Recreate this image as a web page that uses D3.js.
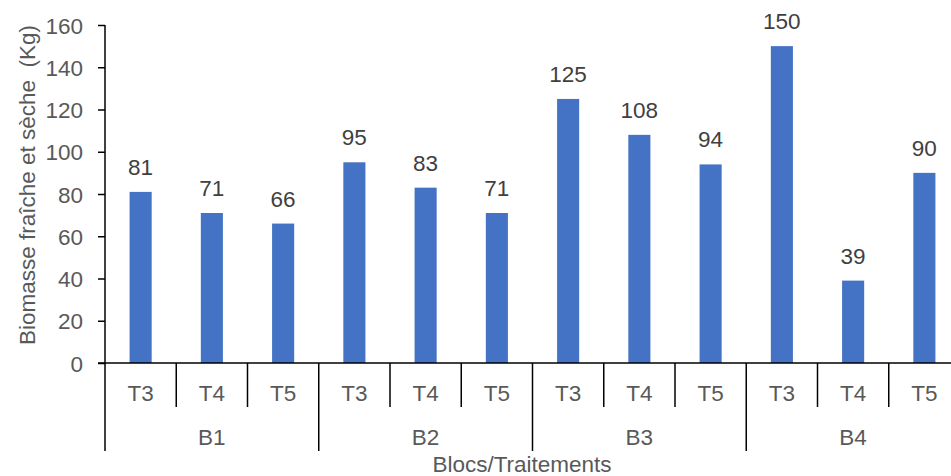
<!DOCTYPE html>
<html>
<head>
<meta charset="utf-8">
<script src="https://cdn.jsdelivr.net/npm/d3@7"></script>
<style>
  html, body { margin: 0; padding: 0; background: #fff; }
  svg { display: block; font-family: "Liberation Sans Narrow", "Arial Narrow", "Liberation Sans", Arial, sans-serif; }
  text { white-space: pre; }
</style>
</head>
<body>
<svg id="chart" width="951" height="476"></svg>
<script>
// Biomass per block and treatment
const blocks = ["B1", "B2", "B3", "B4"];
const treatments = ["T3", "T4", "T5"];
const values = [81, 71, 66, 95, 83, 71, 125, 108, 94, 150, 39, 90];
const yTicks = [0, 20, 40, 60, 80, 100, 120, 140, 160];

const yTitle = "Biomasse fraîche et sèche  (Kg)";
const xTitle = "Blocs/Traitements";

const rows = [];
blocks.forEach((b, bi) => treatments.forEach((t, ti) => {
  rows.push({ key: b + "-" + t, block: b, treat: t, value: values[bi * treatments.length + ti] });
}));

const svg = d3.select("#chart");
const plotL = 105, plotR = 960, plotT = 25, plotB = 363;
const textColor = "#595959";
const fontSize = 22.5;

const x = d3.scaleBand().domain(rows.map(d => d.key)).range([plotL, plotR]).paddingInner(0).paddingOuter(0);
const y = d3.scaleLinear().domain([0, 160]).range([plotB, plotT]);
const barW = x.bandwidth() * 0.31;

// Bars
svg.append("g").selectAll("rect").data(rows).join("rect")
  .attr("x", d => x(d.key) + (x.bandwidth() - barW) / 2)
  .attr("y", d => y(d.value))
  .attr("width", barW)
  .attr("height", d => y(0) - y(d.value))
  .attr("fill", "#4472C4");

// Value labels
svg.append("g").selectAll("text").data(rows).join("text")
  .attr("x", d => x(d.key) + x.bandwidth() / 2)
  .attr("y", d => y(d.value) - 17)
  .attr("text-anchor", "middle")
  .attr("font-size", fontSize)
  .attr("fill", "#404040")
  .text(d => d.value);

// Y axis
const yAxis = svg.append("g").attr("transform", `translate(${plotL},0)`)
  .call(d3.axisLeft(y).tickValues(yTicks).tickSize(7).tickPadding(15).tickSizeOuter(0));
yAxis.select(".domain").remove();
yAxis.selectAll(".tick line").attr("stroke", "#000").attr("stroke-width", 1.5);
yAxis.selectAll(".tick text").attr("font-size", fontSize).attr("fill", textColor)
  .attr("font-family", null).attr("dy", "0.36em");

// Vertical axis line, running down through the category rows
svg.append("line").attr("x1", plotL).attr("x2", plotL).attr("y1", plotT).attr("y2", 451)
  .attr("stroke", "#000").attr("stroke-width", 1.5);

// Baseline
svg.append("line").attr("x1", plotL - 7).attr("x2", plotR).attr("y1", y(0)).attr("y2", y(0))
  .attr("stroke", "#000").attr("stroke-width", 1.5);

// Category separators: short between treatments, long between blocks
const sep = svg.append("g");
rows.forEach((d, i) => {
  if (i === 0) return;
  const isBlock = i % treatments.length === 0;
  sep.append("line")
    .attr("x1", x(d.key)).attr("x2", x(d.key))
    .attr("y1", y(0)).attr("y2", isBlock ? 451 : 407)
    .attr("stroke", "#000").attr("stroke-width", 1.5);
});

// Treatment labels
svg.append("g").selectAll("text").data(rows).join("text")
  .attr("x", d => x(d.key) + x.bandwidth() / 2)
  .attr("y", 401)
  .attr("text-anchor", "middle")
  .attr("font-size", fontSize)
  .attr("fill", textColor)
  .text(d => d.treat);

// Block labels
svg.append("g").selectAll("text").data(blocks).join("text")
  .attr("x", (b) => {
    const first = x(b + "-" + treatments[0]);
    const last = x(b + "-" + treatments[treatments.length - 1]) + x.bandwidth();
    return (first + last) / 2;
  })
  .attr("y", 445)
  .attr("text-anchor", "middle")
  .attr("font-size", fontSize)
  .attr("fill", textColor)
  .text(b => b);

// Axis titles
svg.append("text")
  .attr("x", 522)
  .attr("y", 472)
  .attr("text-anchor", "middle")
  .attr("font-size", fontSize)
  .attr("fill", textColor)
  .text(xTitle);

svg.append("text")
  .attr("transform", `translate(35,185) rotate(-90)`)
  .attr("text-anchor", "middle")
  .attr("font-size", fontSize)
  .attr("fill", textColor)
  .text(yTitle);
</script>
</body>
</html>
